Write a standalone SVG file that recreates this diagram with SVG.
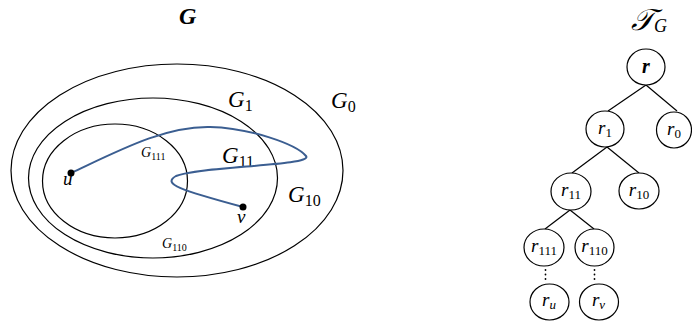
<svg xmlns="http://www.w3.org/2000/svg" width="692" height="324" viewBox="0 0 692 324">
<style>
.l{fill:none;stroke:#000;stroke-width:1.2}
.t{font-family:"Liberation Serif","DejaVu Serif",serif;font-style:italic;fill:#000}
.s{font-style:normal}
.n{fill:#fff;stroke:#000;stroke-width:1.2}
</style>
<rect width="692" height="324" fill="#fff"/>
<g id="sets">
<ellipse class="l" cx="177" cy="170.5" rx="166" ry="106.5"/>
<ellipse class="l" cx="153" cy="178" rx="124.5" ry="80"/>
<ellipse class="l" cx="115" cy="181" rx="72.5" ry="57"/>
</g>
<g id="labels">
<text class="t" x="179" y="24" font-size="24" font-weight="bold">G</text>
<text class="t" x="228" y="107" font-size="23">G<tspan class="s" font-size="16" dy="4">1</tspan></text>
<text class="t" x="331" y="108" font-size="23">G<tspan class="s" font-size="16" dy="4">0</tspan></text>
<text class="t" x="222" y="163" font-size="23">G<tspan class="s" font-size="16" dy="4">11</tspan></text>
<text class="t" x="288" y="202" font-size="23">G<tspan class="s" font-size="16" dy="4">10</tspan></text>
<text class="t" x="141" y="157" font-size="14">G<tspan class="s" font-size="10" dy="3">111</tspan></text>
<text class="t" x="162" y="248" font-size="14">G<tspan class="s" font-size="10" dy="3">110</tspan></text>
<text class="t" x="63" y="185" font-size="19">u</text>
<text class="t" x="237" y="223" font-size="19">v</text>
</g>
<g id="path-uv">
<path d="M71,173 C120,150 165,126 210,127 C250,128 296,144 306,156 C314,166 200,166 176,176 C162,184 180,190 243,207" fill="none" stroke="#3B5E91" stroke-width="2"/>
<circle cx="71" cy="173" r="3.5" fill="#000"/>
<circle cx="243" cy="207" r="3.5" fill="#000"/>
</g>
<g id="title-T">
<text class="t" x="631" y="30" font-size="30" font-style="normal" font-family="DejaVu Serif, serif">𝒯<tspan font-size="18" dy="2" font-style="italic" font-family="Liberation Serif, serif">G</tspan></text>
</g>
<g id="edges">
<line class="l" x1="646" y1="85" x2="608" y2="111"/>
<line class="l" x1="646" y1="85" x2="677" y2="111"/>
<line class="l" x1="607" y1="147" x2="572" y2="173"/>
<line class="l" x1="607" y1="147" x2="639" y2="173"/>
<line class="l" x1="570" y1="210" x2="545" y2="229"/>
<line class="l" x1="570" y1="210" x2="594" y2="229"/>
<g fill="#000">
<circle cx="545.5" cy="270" r="0.9"/><circle cx="545.5" cy="274.5" r="0.9"/><circle cx="545.5" cy="279" r="0.9"/>
<circle cx="594.5" cy="270" r="0.9"/><circle cx="594.5" cy="274.5" r="0.9"/><circle cx="594.5" cy="279" r="0.9"/>
</g>
</g>
<g id="node-r"><ellipse class="n" cx="646" cy="67" rx="19" ry="18"/><text class="t" x="646" y="73" font-size="20" font-weight="bold" text-anchor="middle">r</text></g>
<g id="node-r1"><ellipse class="n" cx="605" cy="129" rx="19" ry="18"/><text class="t" x="605" y="134" font-size="19" text-anchor="middle">r<tspan class="s" font-size="13" dy="3">1</tspan></text></g>
<g id="node-r0"><ellipse class="n" cx="674" cy="130" rx="17.5" ry="18"/><text class="t" x="674" y="135" font-size="19" text-anchor="middle">r<tspan class="s" font-size="13" dy="3">0</tspan></text></g>
<g id="node-r11"><ellipse class="n" cx="571" cy="191.5" rx="20" ry="18.5"/><text class="t" x="571" y="196" font-size="19" text-anchor="middle">r<tspan class="s" font-size="13" dy="3">11</tspan></text></g>
<g id="node-r10"><ellipse class="n" cx="639" cy="191" rx="20" ry="18"/><text class="t" x="639" y="196" font-size="19" text-anchor="middle">r<tspan class="s" font-size="13" dy="3">10</tspan></text></g>
<g id="node-r111"><ellipse class="n" cx="544" cy="247.5" rx="20" ry="18.5"/><text class="t" x="544" y="252" font-size="19" text-anchor="middle">r<tspan class="s" font-size="13" dy="3">111</tspan></text></g>
<g id="node-r110"><ellipse class="n" cx="594.5" cy="247.5" rx="19.5" ry="18.5"/><text class="t" x="594.5" y="252" font-size="19" text-anchor="middle">r<tspan class="s" font-size="13" dy="3">110</tspan></text></g>
<g id="node-ru"><ellipse class="n" cx="549.5" cy="302" rx="19.5" ry="18"/><text class="t" x="549" y="306" font-size="19" text-anchor="middle">r<tspan font-size="13" dy="3">u</tspan></text></g>
<g id="node-rv"><ellipse class="n" cx="599" cy="302" rx="19.5" ry="18"/><text class="t" x="598.5" y="306" font-size="19" text-anchor="middle">r<tspan font-size="13" dy="3">v</tspan></text></g>
</svg>
